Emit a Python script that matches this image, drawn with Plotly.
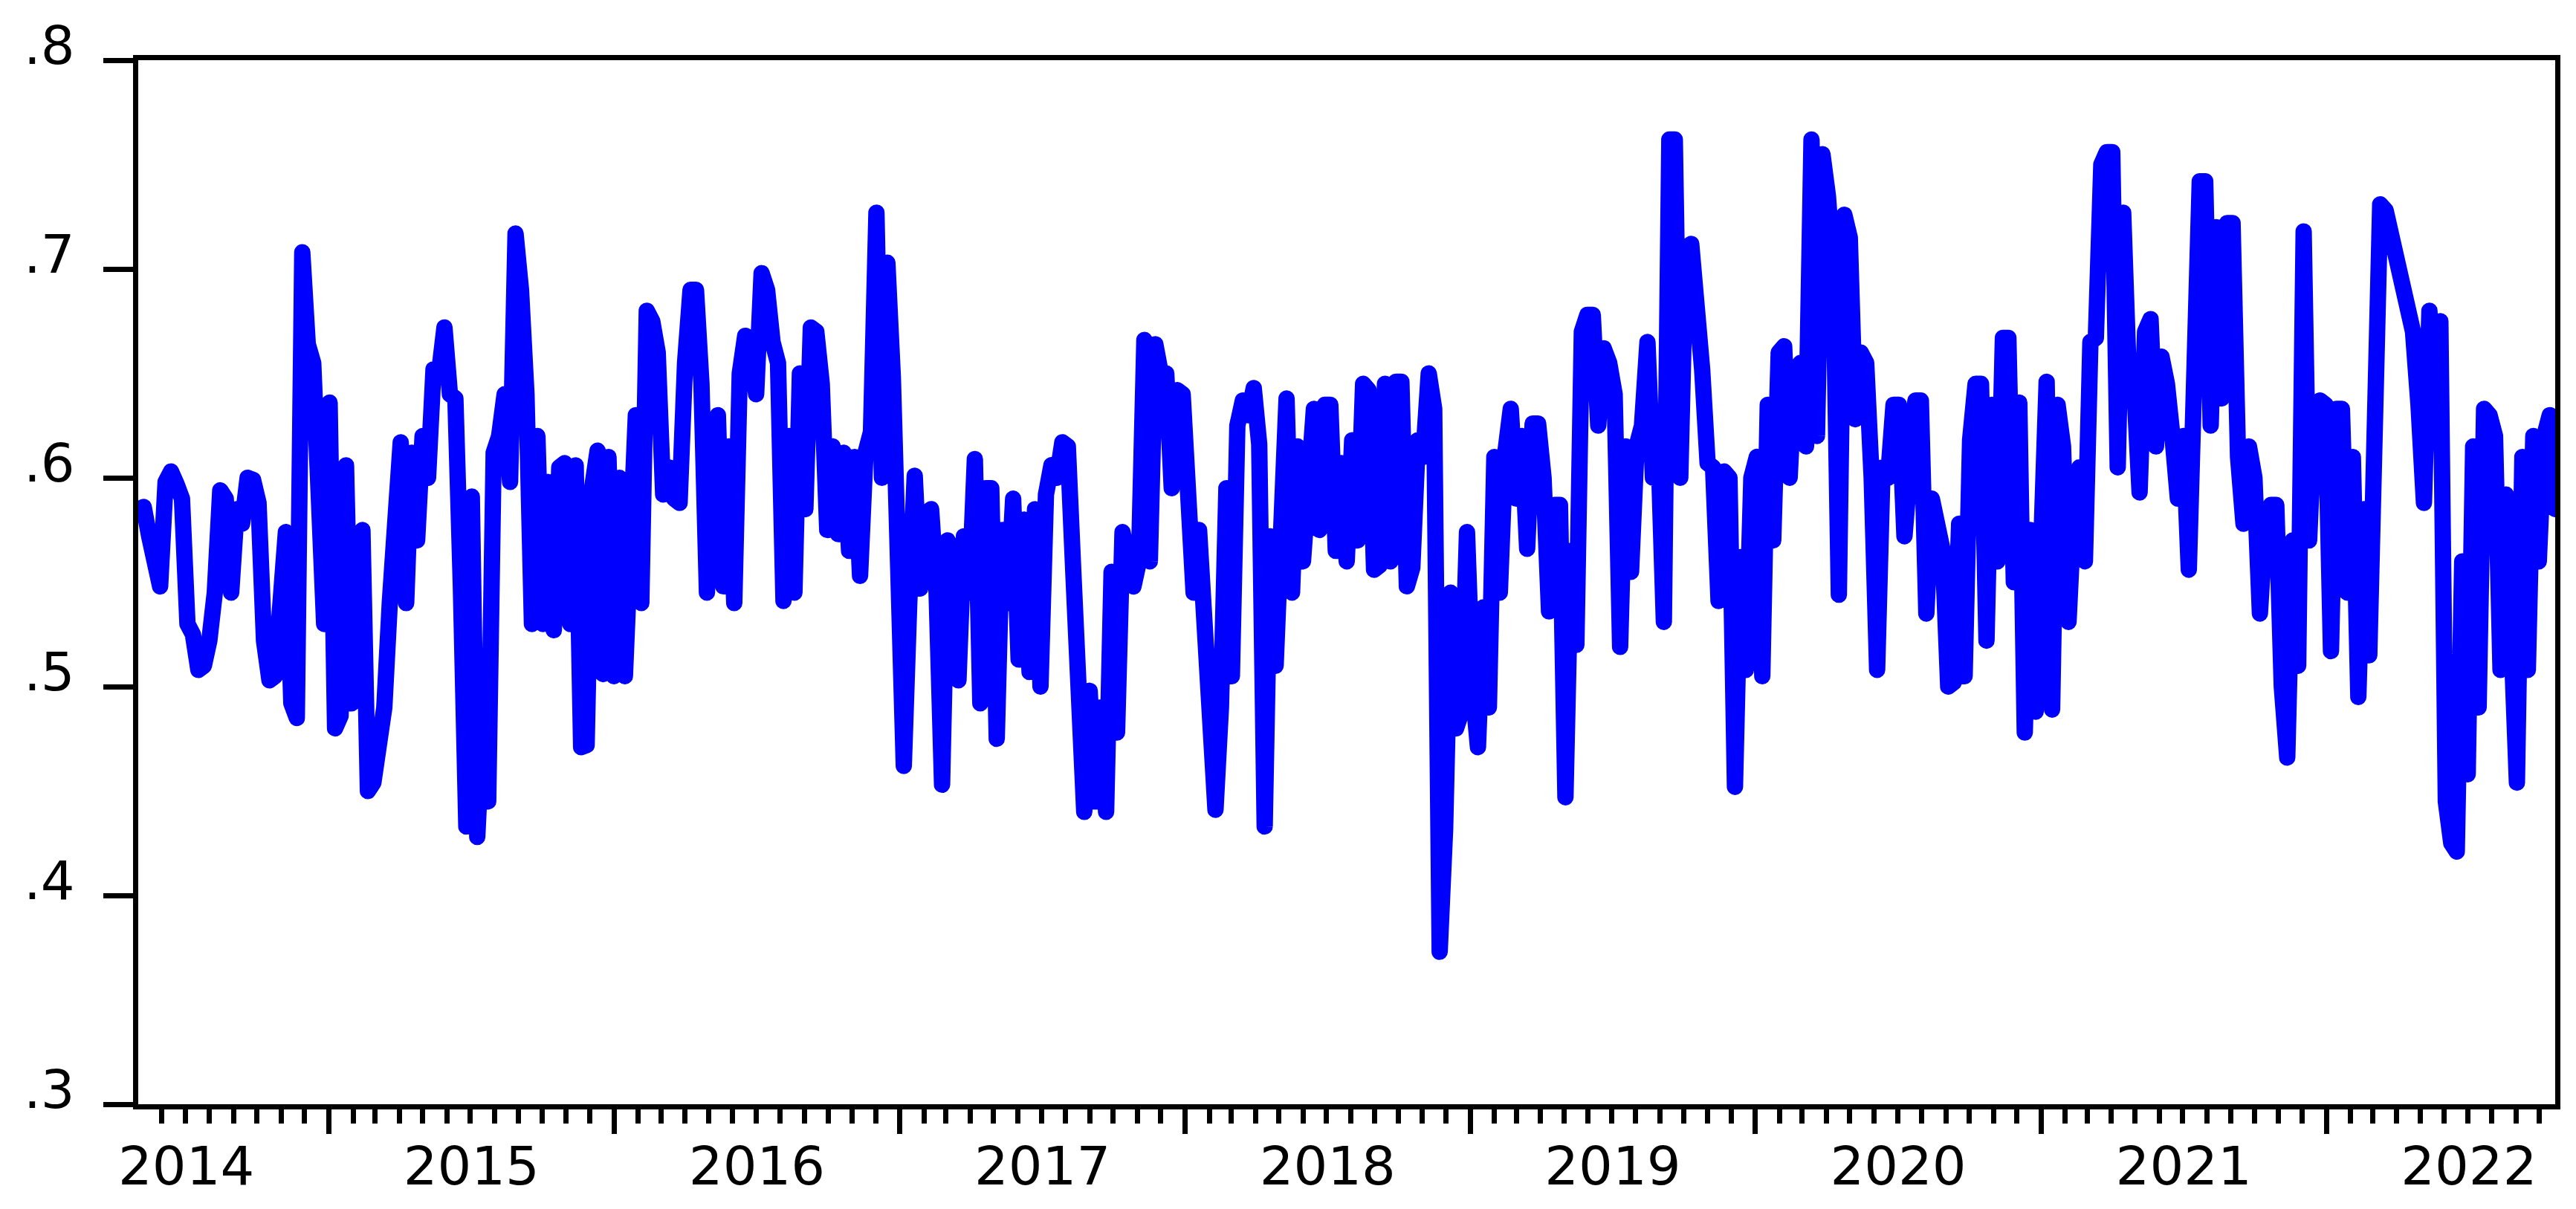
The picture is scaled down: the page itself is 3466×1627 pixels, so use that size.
import pandas as pd
import plotly.graph_objects as go

start_date = "2014-05-02"
n_weeks = 443
values = [
    # 2014
    .585, .586, .572, .560, .548, .598, .603, .597, .590, .530,
    .525, .508, .510, .522, .545, .594, .590, .545, .585, .578,
    .600, .599, .588, .522, .503, .505, .556, .574, .492, .485,
    .708, .664, .655, .600, .530, .636, .480, .486, .606, .492,
    .512, .575, .450, .454, .470, .490, .540, .590, .617, .540,
    .612, .570, .620, .600, .652, .650, .672,
    # 2015
    .640, .638, .548, .433, .591, .428, .482, .445, .612, .620,
    .640, .598, .717, .690, .640, .530, .620, .530, .598, .527,
    .605, .607, .530, .606, .471, .472, .595, .613, .506, .610,
    .505, .600, .505, .600, .630, .540, .680, .675, .660, .592,
    .605, .590, .588, .655, .690, .690, .645, .545, .620, .630,
    .548, .615, .540, .650, .668,
    # 2016
    .660, .640, .698, .690, .665, .655, .541, .620, .545, .650,
    .585, .672, .670, .645, .575, .615, .573, .612, .565, .610,
    .553, .612, .622, .727, .600, .703, .648, .545, .462, .540,
    .601, .547, .583, .585, .545, .453, .570, .565, .503, .572,
    .545, .609, .492, .595, .595, .475, .575, .540, .590, .513,
    .580, .507, .585, .500, .592, .606,
    # 2017
    .600, .617, .615, .555, .487, .440, .498, .445, .490, .440,
    .555, .478, .574, .556, .548, .560, .666, .560, .664, .650,
    .650, .595, .642, .640, .600, .545, .575, .520, .460, .441,
    .490, .595, .505, .625, .637, .630, .643, .616, .433, .572,
    .510, .572, .638, .545, .615, .560, .605, .633, .575, .635,
    .635, .565, .607, .560, .618, .570,
    # 2018
    .645, .642, .556, .558, .645, .560, .646, .646, .548, .557,
    .618, .610, .650, .633, .373, .432, .545, .480, .488, .574,
    .500, .471, .538, .490, .610, .545, .612, .633, .590, .620,
    .566, .626, .626, .600, .536, .587, .587, .447, .565, .520,
    .670, .678, .678, .625, .662, .655, .640, .519, .615, .555,
    .615, .625, .665, .600, .615,
    # 2019
    .531, .762, .762, .600, .710, .712, .690, .652, .607, .605,
    .541, .603, .600, .452, .562, .508, .600, .610, .505, .635,
    .570, .660, .663, .600, .652, .655, .615, .762, .620, .755,
    .735, .700, .544, .726, .715, .628, .660, .655, .600, .508,
    .605, .600, .635, .635, .572, .620, .637, .637, .535, .590,
    .570, .565, .500, .502,
    # 2020-2021
    .578, .505, .618, .645, .645, .522, .635, .560, .667, .667,
    .550, .636, .478, .575, .488, .590, .646, .489, .635, .615,
    .531, .585, .605, .560, .665, .667, .750, .756, .756, .605,
    .727, .650, .645, .593, .670, .676, .615, .658, .645, .620,
    .590, .620, .556, .649, .742, .742, .625, .720, .638, .722,
    .722, .610, .578, .615, .600,
    # 2021-2022
    .535, .578, .587, .587, .500, .466, .570, .510, .718, .570,
    .630, .637, .635, .517, .633, .633, .545, .610, .495, .585,
    .515, .683, .731, .728, .715, .705, .690, .675, .670, .635,
    .588, .680, .620, .675, .445, .425, .421, .560, .458, .615,
    .490, .633, .630, .620, .508, .592, .520, .454, .610, .508,
    .620, .560, .620, .630, .585,
]
y_tick_vals = [0.3, 0.4, 0.5, 0.6, 0.7, 0.8]
y_tick_text = [".3", ".4", ".5", ".6", ".7", ".8"]

dates = pd.date_range(start_date, periods=n_weeks, freq="7D")

FONT = "DejaVu Sans, Arial, Liberation Sans, sans-serif"
FSIZE = 72

fig = go.Figure()
fig.add_trace(go.Scatter(
    x=dates, y=values, mode="lines",
    line=dict(color="#0000FF", width=22),
    showlegend=False, hoverinfo="skip",
))

fig.update_layout(
    width=3466, height=1627,
    margin=dict(l=178, r=36, t=73, b=149),
    paper_bgcolor="white", plot_bgcolor="white",
    font=dict(family=FONT, size=FSIZE, color="black"),
)

fig.update_xaxes(
    type="date",
    range=[dates[0], dates[-1]],
    showgrid=False, zeroline=False,
    showline=True, linewidth=7, linecolor="black", mirror=True,
    ticks="outside", ticklen=33, tickwidth=7, tickcolor="black",
    dtick="M12", tick0="2014-01-01",
    ticklabelmode="period", tickformat="%Y",
    tickfont=dict(family=FONT, size=FSIZE, color="black"),
    ticklabelstandoff=-18,
    minor=dict(ticks="outside", dtick="M1", tick0="2014-01-01",
               ticklen=19, tickwidth=7, tickcolor="black", showgrid=False),
)

fig.update_yaxes(
    range=[0.3, 0.8],
    tickvals=y_tick_vals, ticktext=y_tick_text,
    showgrid=False, zeroline=False,
    showline=True, linewidth=7, linecolor="black", mirror=True,
    ticks="outside", ticklen=40, tickwidth=7, tickcolor="black",
    tickfont=dict(family=FONT, size=FSIZE, color="black"),
    ticklabelstandoff=24,
    ticklabelshift=-20,
)

post_js = (
    "var s=document.createElement('style');"
    "s.innerHTML='.js-line{stroke-linejoin:round !important;stroke-linecap:round !important;}';"
    "document.head.appendChild(s);"
)
fig.write_html("out.html", post_script=post_js)
